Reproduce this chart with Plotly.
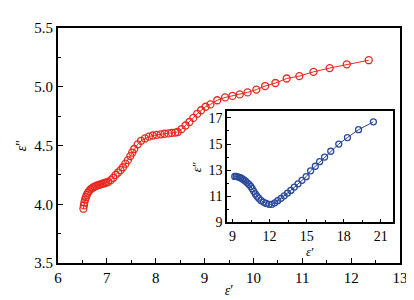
import plotly.graph_objects as go

# Main curve (epsilon' vs epsilon'')
main_x = [6.52, 6.53, 6.54, 6.555, 6.57, 6.59, 6.61, 6.635, 6.66, 6.69, 6.72, 6.75,
          6.78, 6.81, 6.84, 6.87, 6.90, 6.93, 6.96, 6.99, 7.03, 7.08, 7.13, 7.18,
          7.23, 7.28, 7.33, 7.38, 7.43, 7.48, 7.52, 7.56, 7.63, 7.70, 7.78, 7.86,
          7.94, 8.02, 8.10, 8.18, 8.26, 8.33, 8.40, 8.45, 8.53, 8.61, 8.69, 8.77,
          8.85, 8.93, 9.02, 9.12, 9.26, 9.42, 9.57, 9.72, 9.88, 10.06, 10.24, 10.45,
          10.68, 10.94, 11.23, 11.56, 11.91, 12.36]
main_y = [3.962, 3.99, 4.015, 4.04, 4.06, 4.08, 4.097, 4.112, 4.125, 4.135, 4.143, 4.15,
          4.156, 4.161, 4.165, 4.169, 4.173, 4.177, 4.181, 4.185, 4.19, 4.205, 4.225, 4.25,
          4.27, 4.29, 4.315, 4.345, 4.375, 4.41, 4.44, 4.47, 4.51, 4.54, 4.56, 4.575,
          4.585, 4.59, 4.595, 4.60, 4.603, 4.607, 4.61, 4.615, 4.64, 4.67, 4.70, 4.735,
          4.77, 4.80, 4.83, 4.85, 4.885, 4.909, 4.922, 4.935, 4.952, 4.976, 5.006, 5.032,
          5.07, 5.091, 5.127, 5.159, 5.191, 5.226]

# Inset curve
inset_x = [9.18, 9.3, 9.42, 9.55, 9.68, 9.8, 9.93, 10.06, 10.2, 10.34, 10.48, 10.6,
           10.72, 10.85, 10.98, 11.12, 11.3, 11.5, 11.72, 11.95, 12.18, 12.42, 12.66,
           12.92, 13.18, 13.45, 13.72, 14.0, 14.3, 14.62, 14.96, 15.32, 15.7, 16.05,
           16.45, 16.95, 17.6, 18.3, 19.2, 20.4]
inset_y = [12.52, 12.52, 12.49, 12.45, 12.40, 12.33, 12.24, 12.15, 12.03, 11.9, 11.75, 11.58,
           11.38, 11.18, 11.0, 10.85, 10.68, 10.55, 10.45, 10.38, 10.38, 10.5, 10.66,
           10.84, 11.03, 11.24, 11.45, 11.7, 11.95, 12.22, 12.5, 12.95, 13.3, 13.65,
           14.0, 14.45, 15.0, 15.5, 16.1, 16.7]

main_xticks = [6, 7, 8, 9, 10, 11, 12, 13]
main_yticks = [3.5, 4.0, 4.5, 5.0, 5.5]
inset_xticks = [9, 12, 15, 18, 21]
inset_yticks = [9, 11, 13, 15, 17]

FONT = "Liberation Serif"
RED = "#e8281e"
BLUE = "#2c4a9c"

fig = go.Figure()
fig.add_trace(go.Scatter(
    x=main_x, y=main_y, mode="lines+markers",
    line=dict(color=RED, width=1),
    marker=dict(symbol="circle-open", size=7, color=RED, line=dict(width=1.3)),
    showlegend=False, xaxis="x", yaxis="y"))
fig.add_trace(go.Scatter(
    x=inset_x, y=inset_y, mode="lines+markers",
    line=dict(color=BLUE, width=1),
    marker=dict(symbol="circle-open", size=6, color=BLUE, line=dict(width=1.3)),
    showlegend=False, xaxis="x2", yaxis="y2"))

axis_common = dict(showline=True, linecolor="black", mirror=True, showgrid=False,
                   zeroline=False, ticks="inside", tickcolor="black",
                   tickfont=dict(family=FONT, size=15, color="black"))

fig.update_layout(
    width=414, height=300,
    font=dict(family=FONT, color="black"),
    margin=dict(l=46, r=22, t=16, b=36),
    paper_bgcolor="white", plot_bgcolor="white",
    xaxis=dict(**axis_common, range=[6, 13], tickvals=main_xticks, ticklen=5, linewidth=2,
               tickwidth=1.2, minor=dict(ticks="inside", ticklen=3, dtick=0.5, tickcolor="black"),
               title=dict(text="<i>ε</i>′", font=dict(family=FONT, size=14, color="black"), standoff=0)),
    yaxis=dict(**axis_common, range=[3.5, 5.5], tickvals=main_yticks, tickformat=".1f",
               ticklen=5, linewidth=2, tickwidth=1.2,
               minor=dict(ticks="inside", ticklen=3, dtick=0.25, tickcolor="black"),
               title=dict(text="<i>ε</i>″", font=dict(family=FONT, size=14, color="black"), standoff=4)),
    xaxis2=dict(**axis_common, domain=[0.494, 0.98], anchor="y2", range=[8.55, 22],
                tickvals=inset_xticks, ticklen=4, linewidth=1.5, tickwidth=1.2,
                minor=dict(ticks="inside", ticklen=2.5, dtick=1.5, tickcolor="black"),
                title=dict(text="<i>ε</i>′", font=dict(family=FONT, size=13, color="black"), standoff=0)),
    yaxis2=dict(**axis_common, domain=[0.173, 0.645], anchor="x2", range=[9, 17.5],
                tickvals=inset_yticks, ticklen=4, linewidth=1.5, tickwidth=1.2,
                minor=dict(ticks="inside", ticklen=2.5, dtick=1, tickcolor="black"),
                title=dict(text="<i>ε</i>″", font=dict(family=FONT, size=13, color="black"), standoff=4)),
)
fig.update_layout(xaxis2_tickfont_size=14, yaxis2_tickfont_size=14)

fig.write_html("out.html")
